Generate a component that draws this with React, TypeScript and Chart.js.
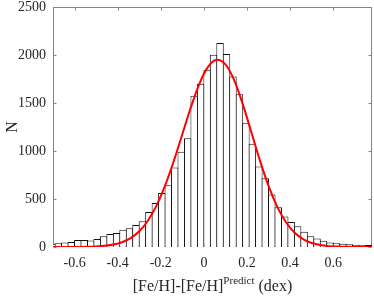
import React, { useEffect, useRef } from 'react';
import { Chart, registerables } from 'chart.js';

Chart.register(...registerables);

// Histogram bins (centres, width 0.03 dex)
const binCenters = [
  -0.705, -0.675, -0.645, -0.615, -0.585, -0.555, -0.525, -0.495, -0.465, -0.435,
  -0.405, -0.375, -0.345, -0.315, -0.285, -0.255, -0.225, -0.195, -0.165, -0.135,
  -0.105, -0.075, -0.045, -0.015, 0.015, 0.045, 0.075, 0.105, 0.135, 0.165,
  0.195, 0.225, 0.255, 0.285, 0.315, 0.345, 0.375, 0.405, 0.435, 0.465,
  0.495, 0.525, 0.555, 0.585, 0.615, 0.645, 0.675, 0.705, 0.735, 0.765,
];
const counts = [
  35, 38, 48, 52, 73, 73, 69, 83, 111, 135,
  146, 180, 195, 229, 267, 364, 458, 562, 642, 829,
  993, 1132, 1576, 1701, 1847, 2003, 2125, 2010, 1775, 1592,
  1290, 1075, 839, 715, 548, 415, 319, 260, 215, 160,
  111, 88, 66, 48, 38, 35, 28, 24, 17, 21,
];

// Fitted curve
const fitX = [
  -0.70, -0.66, -0.62, -0.58, -0.54, -0.50, -0.46, -0.42, -0.38, -0.34,
  -0.30, -0.26, -0.22, -0.18, -0.14, -0.10, -0.06, -0.02, 0.02, 0.06,
  0.10, 0.14, 0.18, 0.22, 0.26, 0.30, 0.34, 0.38, 0.42, 0.46,
  0.50, 0.54, 0.58, 0.62, 0.66, 0.70, 0.74, 0.78,
];
const fitY = [
  0, 0.1, 0.3, 0.9, 2, 5, 12, 25, 49, 92,
  164, 274, 431, 639, 893, 1175, 1458, 1705, 1878, 1950,
  1902, 1740, 1491, 1198, 902, 636, 421, 260, 151, 82,
  42, 20, 9, 4, 1.5, 0.5, 0.2, 0.1,
];

const xTicks = [-0.6, -0.4, -0.2, 0, 0.2, 0.4, 0.6];
const yTicks = [0, 500, 1000, 1500, 2000, 2500];

const FONT = '"Liberation Serif", "Times New Roman", serif';
const TEXT = '#262626';
const AXIS = '#858585';

const framePlugin = {
  id: 'frame',
  beforeDatasetsDraw(chart: any) {
    const { ctx, chartArea: a, scales } = chart;
    const x = scales.x, y = scales.y;
    const L = Math.round(a.left) + 0.5, R = Math.round(a.right) - 0.5;
    const T = Math.round(a.top) + 0.5, B = Math.round(a.bottom) - 0.5;
    ctx.save();
    ctx.strokeStyle = AXIS;
    ctx.lineWidth = 1;
    ctx.strokeRect(L, T, R - L, B - T);
    const tl = 3;
    ctx.beginPath();
    for (const v of xTicks) {
      const px = Math.round(x.getPixelForValue(v)) + 0.5;
      ctx.moveTo(px, B); ctx.lineTo(px, B - tl);
      ctx.moveTo(px, T); ctx.lineTo(px, T + tl);
    }
    for (const v of yTicks) {
      const py = Math.round(y.getPixelForValue(v)) + 0.5;
      ctx.moveTo(L, py); ctx.lineTo(L + tl, py);
      ctx.moveTo(R, py); ctx.lineTo(R - tl, py);
    }
    ctx.stroke();
    ctx.restore();
  },
  afterDraw(chart: any) {
    const { ctx, chartArea: a } = chart;
    ctx.save();
    ctx.fillStyle = TEXT;
    // x title with superscript
    const big = `16px ${FONT}`;
    const small = `11px ${FONT}`;
    const p1 = '[Fe/H]-[Fe/H]';
    const p2 = 'Predict';
    const p3 = ' (dex)';
    ctx.font = big;
    const w1 = ctx.measureText(p1).width;
    const w3 = ctx.measureText(p3).width;
    ctx.font = small;
    const w2 = ctx.measureText(p2).width;
    const total = w1 + w2 + w3;
    const cx = (a.left + a.right) / 2;
    let sx = cx - total / 2;
    const base = 291;
    ctx.textBaseline = 'alphabetic';
    ctx.textAlign = 'left';
    ctx.font = big;
    ctx.fillText(p1, sx, base);
    sx += w1;
    ctx.font = small;
    ctx.fillText(p2, sx, base - 7);
    sx += w2;
    ctx.font = big;
    ctx.fillText(p3, sx, base);
    // y title
    ctx.translate(13, (a.top + a.bottom) / 2);
    ctx.rotate(-Math.PI / 2);
    ctx.textAlign = 'center';
    ctx.textBaseline = 'middle';
    ctx.font = big;
    ctx.fillText('N', 0, 0);
    ctx.restore();
  },
};

export default function App() {
  const ref = useRef<HTMLCanvasElement | null>(null);
  useEffect(() => {
    if (!ref.current) return;
    const chart = new Chart(ref.current, {
      type: 'bar',
      data: {
        datasets: [
          {
            type: 'line',
            data: fitX.map((x, i) => ({ x, y: fitY[i] })),
            borderColor: '#ff0000',
            borderWidth: 2,
            pointRadius: 0,
            cubicInterpolationMode: 'monotone',
            fill: false,
            order: 0,
          } as any,
          {
            type: 'bar',
            data: binCenters.map((x, i) => ({ x, y: counts[i] })),
            backgroundColor: '#ffffff',
            borderColor: '#111111',
            borderWidth: 1,
            barPercentage: 1.155,
            categoryPercentage: 1,
            order: 1,
          } as any,
        ],
      },
      options: {
        animation: false,
        responsive: true,
        maintainAspectRatio: false,
        devicePixelRatio: 1,
        layout: { padding: { top: 7, right: 2, left: 0, bottom: 0 } },
        plugins: { legend: { display: false }, tooltip: { enabled: false } },
        scales: {
          x: {
            type: 'linear',
            min: -0.7,
            max: 0.78,
            offset: false,
            grid: { display: false, drawTicks: false },
            border: { display: false },
            ticks: {
              font: { family: FONT, size: 14 },
              color: TEXT,
              padding: 8,
              maxRotation: 0,
              autoSkip: false,
              callback: (v: any) => (Math.abs(v) < 1e-9 ? '0' : Number(v).toFixed(1)),
            },
            afterBuildTicks: (s: any) => {
              s.ticks = xTicks.map((v) => ({ value: v }));
            },
            afterFit: (s: any) => {
              s.height = 49;
              s.paddingLeft = 0;
              s.paddingRight = 0;
            },
          },
          y: {
            type: 'linear',
            min: 0,
            max: 2500,
            grid: { display: false, drawTicks: false },
            border: { display: false },
            ticks: {
              font: { family: FONT, size: 14 },
              color: TEXT,
              padding: 7,
              autoSkip: false,
              callback: (v: any) => String(Math.round(Number(v))),
            },
            afterBuildTicks: (s: any) => {
              s.ticks = yTicks.map((v) => ({ value: v }));
            },
            afterFit: (s: any) => {
              s.width = 53;
              s.paddingTop = 0;
              s.paddingBottom = 0;
            },
          },
        },
      } as any,
      plugins: [framePlugin],
    });
    return () => chart.destroy();
  }, []);
  return (
    <div style={{ position: 'fixed', left: 0, top: 0, width: 374, height: 296, background: '#fff' }}>
      <canvas ref={ref} />
    </div>
  );
}
